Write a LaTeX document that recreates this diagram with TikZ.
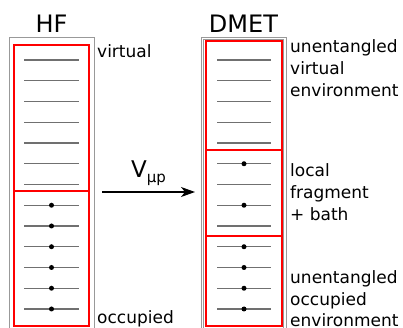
\documentclass[tikz,border=0pt]{standalone}
\usepackage{fontspec}
\setmainfont{DejaVu Sans}
\usetikzlibrary{arrows.meta}
\definecolor{boxgray}{HTML}{999999}
\definecolor{levgray}{HTML}{707070}
\begin{document}
\begin{tikzpicture}[x=1pt,y=1pt,
  outerbox/.style={draw=boxgray,line width=0.9pt},
  redbox/.style={draw=red,line width=2pt},
  level/.style={draw=levgray,line width=1.2pt},
  elec/.style={fill=black,circle,inner sep=0pt,minimum size=5pt},
  head/.style={font=\fontsize{24}{28}\selectfont,inner sep=0pt,anchor=base},
  lab/.style={font=\fontsize{17}{21.7}\selectfont,inner sep=0pt,anchor=base west,align=left}]
\useasboundingbox (0,0) rectangle (403,328);
% HF column
\draw[outerbox] (9,-3) rectangle (94,291);
\draw[redbox] (14,2) rectangle (89,283);
\draw[redbox] (14,137) -- (89,137);
\foreach \i in {0,...,12} {
  \draw[level] (24,{268-20.75*\i}) -- (79,{268-20.75*\i});
}
\foreach \i in {7,...,12} {
  \node[elec] at (51.5,{268-20.75*\i}) {};
}
\node[head] (hf) at (51.5,295) {HF};
\node[lab] (virt) at (97,270) {virtual};
\node[lab] (occ) at (97,4) {occupied};
% DMET column
\draw[draw=boxgray,line width=0.7pt] (201,-3) rectangle (286,291);
\draw[draw=boxgray,line width=0.7pt] (203.2,-3) rectangle (283.8,288.8);
\draw[redbox] (206,2) rectangle (282,287);
\draw[redbox] (206,178) -- (282,178);
\draw[redbox] (206,92) -- (282,92);
\foreach \i in {0,...,12} {
  \draw[level] (217,{268-20.75*\i}) -- (271,{268-20.75*\i});
}
\foreach \i in {5,7,9,10,11,12} {
  \node[elec] at (244,{268-20.75*\i}) {};
}
\node[head] (dmet) at (243.5,295) {DMET};
\node[lab] (uve) at (290,231.6) {unentangled\\virtual\\environment};
\node[lab] (lfb) at (290,107.6) {local\\fragment\\+ bath};
\node[lab] (uoe) at (290,1.2) {unentangled\\occupied\\environment};
% arrow
\coordinate (a1) at (102,136);
\coordinate (a2) at (195,136);
\draw[line width=1.3pt,-{Stealth[length=14pt,width=10pt,inset=4pt]}] (a1) -- (a2);
\node[inner sep=0pt,anchor=base,font=\fontsize{23}{26}\selectfont] (v) at (148.5,150) {V\raisebox{-5pt}{\fontsize{15}{15}\selectfont μp}};
\end{tikzpicture}
\end{document}
